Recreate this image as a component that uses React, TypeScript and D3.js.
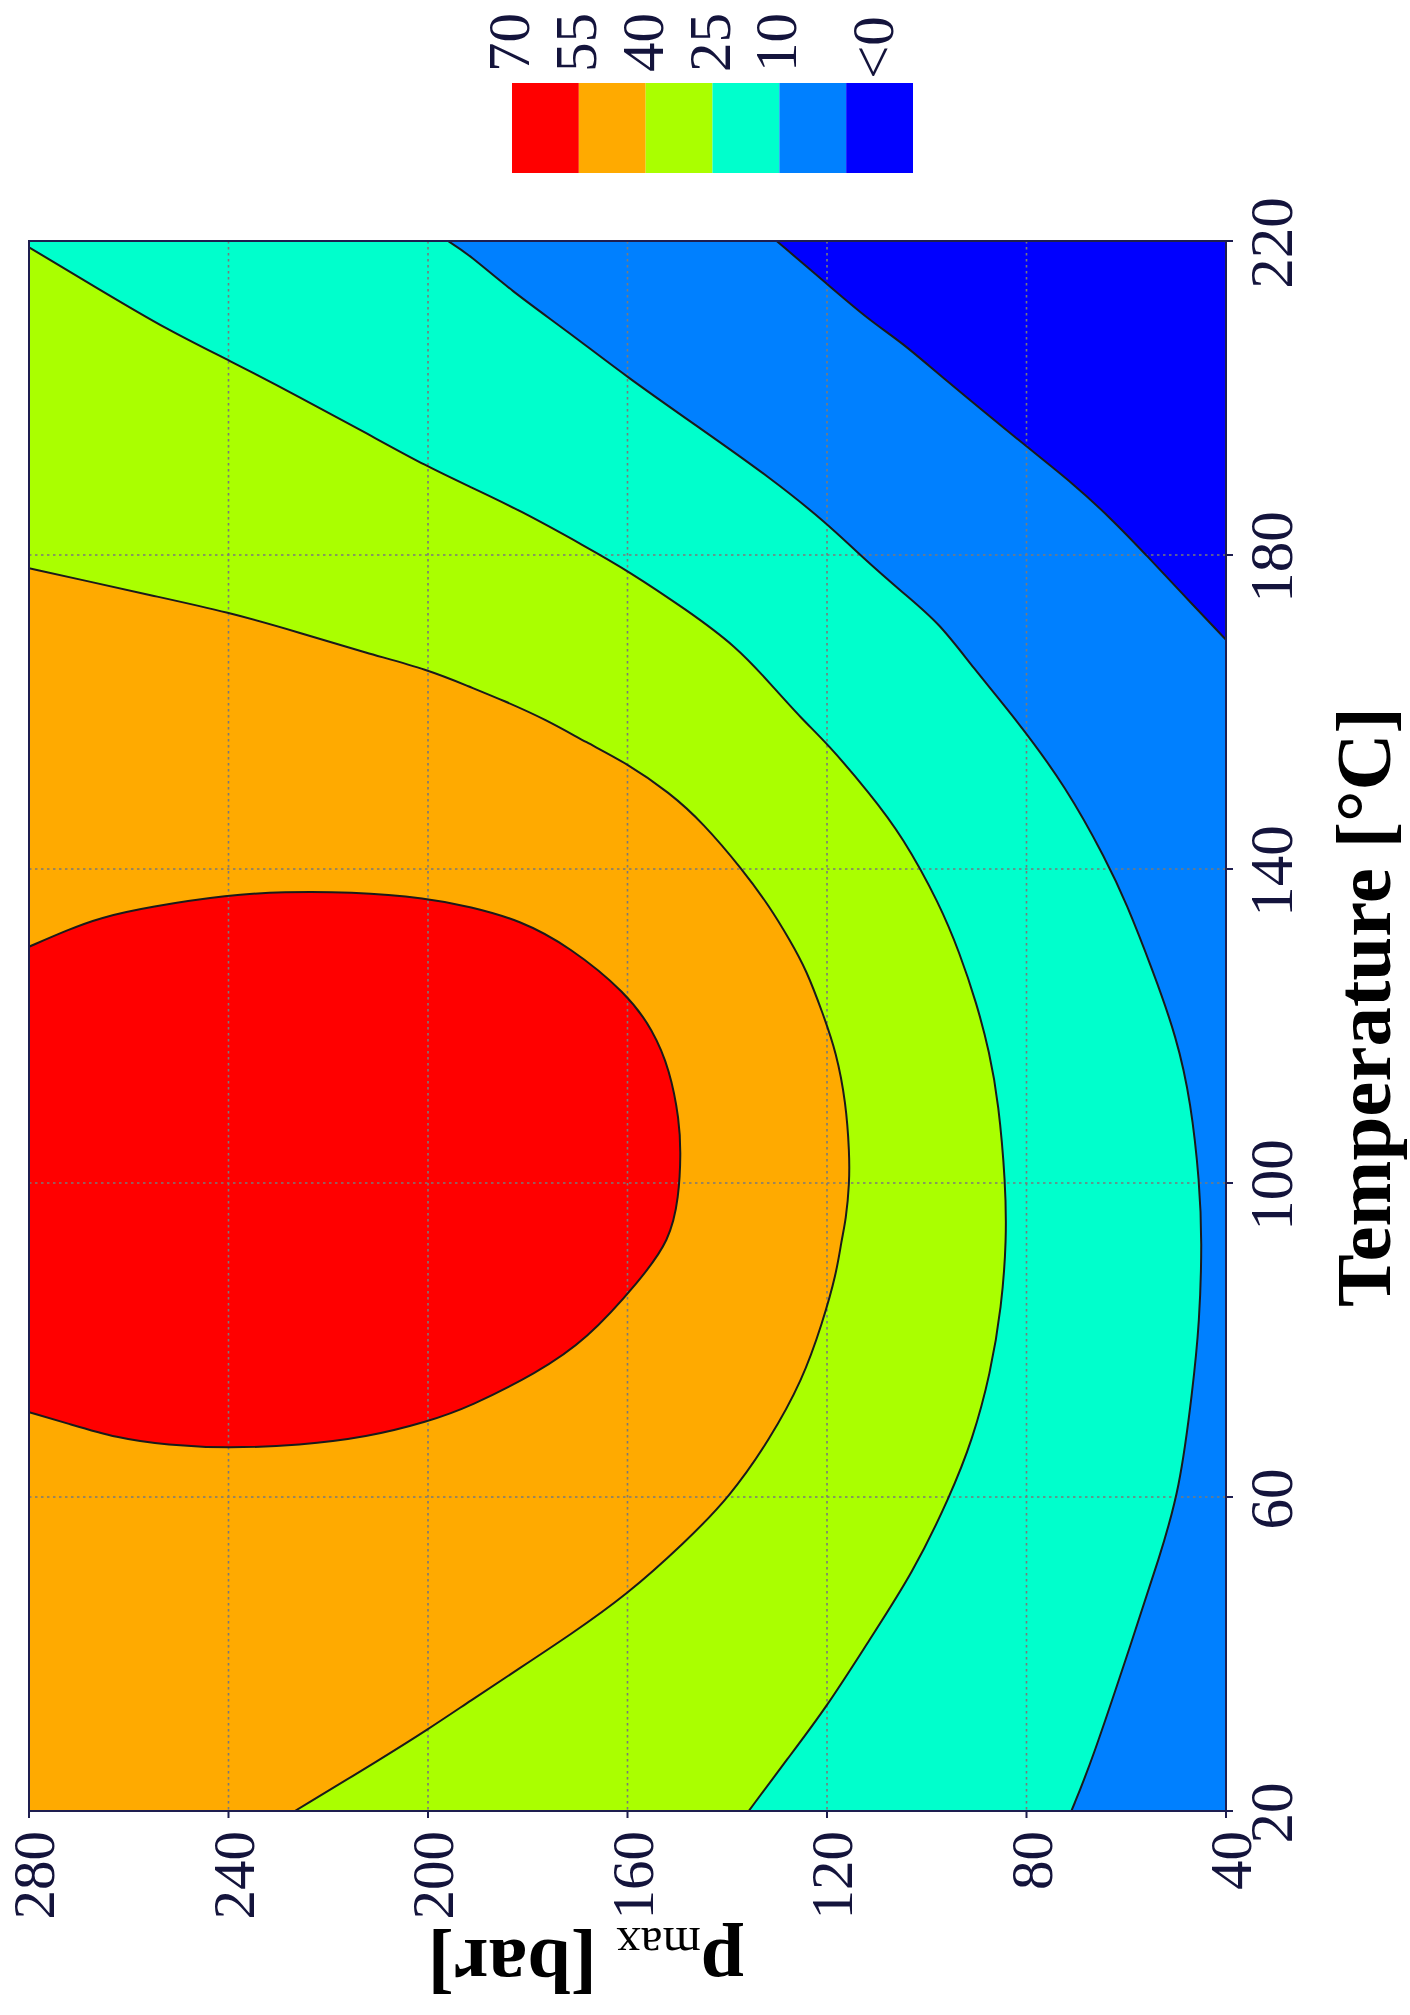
import React from 'react';
import * as d3 from 'd3';

type Pt = [number, number]; // [pressure bar, temperature °C]

const pressureTicks = [280, 240, 200, 160, 120, 80, 40];
const temperatureTicks = [20, 60, 100, 140, 180, 220];
const pressureGrid = [240, 200, 160, 120, 80];
const temperatureGrid = [60, 100, 140, 180];
const legendLabels = ['70', '55', '40', '25', '10'];
const legendLastLabel = '<0';
const bandColors = ['#ff0000', '#ffaa00', '#aaff00', '#00ffcc', '#0080ff', '#0000ff'];

// contour lines, as [p_max, Temperature]
const contour55: Pt[] = [
  [280, 130.1], [272.4, 132.2], [265.8, 133.8], [255.8, 135.2], [239.9, 136.7], [229.1, 137.1],
  [215.7, 137.1], [200, 136.3], [191.6, 135.2], [181.6, 133.5], [171.6, 130.1], [160.2, 124.2],
  [154.9, 119.5], [151.5, 114.4], [149.6, 108.0], [149.3, 103.8], [149.7, 98.2], [151.5, 92.7],
  [157.5, 87.6], [168.2, 80.0], [178.2, 75.8], [191.6, 71.5], [200, 69.6], [212.3, 67.6],
  [225.7, 66.6], [239.9, 66.2], [252.3, 66.6], [262.4, 67.5], [272.4, 69.4], [280, 70.8],
];
const contour40: Pt[] = [
  [280, 178.3], [269.2, 176.8], [255.8, 174.9], [239.9, 172.7], [225.7, 170.1], [212.3, 167.5],
  [200, 165.4], [191.6, 163.2], [185.0, 161.5], [176.2, 159.0], [168.2, 156.1], [160.2, 153.5],
  [151.5, 149.7], [144.9, 145.9], [136.9, 139.9], [131.5, 135.2], [127.5, 131.0], [124.1, 127.1],
  [120.9, 121.7], [118.1, 116.6], [116.2, 110.2], [115.5, 103.8], [115.5, 100], [116.2, 95.3],
  [117.1, 92.7], [118.1, 88.5], [120.9, 82.2], [124.9, 74.9], [131.5, 67.3], [139.5, 60],
  [148.5, 54.2], [160.2, 47.5], [171.6, 42.4], [181.6, 38.2], [191.6, 34.0], [200, 30.4],
  [209.0, 26.8], [226.7, 20],
];
const contour25: Pt[] = [
  [280, 219.2], [265.8, 213.8], [252.3, 208.7], [239.9, 204.8], [225.7, 200.1], [212.3, 195.5],
  [200, 191.2], [191.6, 188.7], [181.6, 185.7], [168.2, 181.0], [160.2, 178.1], [148.1, 173.0],
  [138.1, 168.3], [131.5, 163.7], [124.9, 159.0], [120.1, 156.1], [111.5, 149.7], [104.8, 144.1],
  [97.4, 135.5], [93.4, 129.3], [90.0, 122.9], [87.4, 116.6], [85.6, 110.2], [84.2, 100],
  [84.0, 92.7], [85.0, 84.2], [87.2, 75.8], [90.8, 67.3], [95.4, 60], [102.8, 50.3],
  [111.5, 41.8], [120.1, 33.2], [128.1, 26.5], [135.7, 20],
];
const contour10: Pt[] = [
  [196.0, 220], [191.6, 218.2], [183.6, 213.8], [171.6, 208.3], [160.2, 202.7], [144.9, 195.9],
  [131.5, 189.9], [120.1, 184.1], [112.9, 179.7], [104.8, 175.2], [97.4, 171.3], [90.8, 165.7],
  [82.0, 159.0], [72.0, 150.4], [64.0, 141.1], [60.0, 135.7], [54.7, 127.1], [49.9, 118.6],
  [47.0, 110.2], [45.3, 100], [44.8, 92.7], [45.3, 82.2], [46.7, 73.6], [49.3, 60.9],
  [53.3, 52.4], [58.8, 41.8], [66.8, 26.5], [71.0, 20],
];
const contour0: Pt[] = [
  [130.1, 220], [120.1, 214.6], [111.5, 209.9], [104.8, 207.0], [97.4, 202.9], [80.0, 193.8],
  [70.8, 189.2], [62.8, 184.5], [56.0, 180], [49.4, 175.5], [40, 169.2],
];

export default function App() {
  const W = 1410;
  const H = 2015;
  const plot = { left: 29, right: 1226, top: 241, bottom: 1811 };
  const x = d3.scaleLinear().domain([280, 40]).range([plot.left, plot.right]);
  const y = d3.scaleLinear().domain([20, 220]).range([plot.bottom, plot.top]);
  const [pHi, pLo] = x.domain();
  const [tLo, tHi] = y.domain();

  const line = d3
    .line<Pt>()
    .x((d) => x(d[0]))
    .y((d) => y(d[1]))
    .curve(d3.curveBasis);

  const region = (pts: Pt[], corners: Pt[]) =>
    (line(pts) || '') + corners.map(([p, t]) => `L${x(p)},${y(t)}`).join('') + 'Z';

  const regions = [
    { fill: bandColors[4], d: region(contour0, [[pLo, tLo], [pHi, tLo], [pHi, tHi]]) },
    { fill: bandColors[3], d: region(contour10, [[pHi, tLo], [pHi, tHi]]) },
    { fill: bandColors[2], d: region(contour25, [[pHi, tLo]]) },
    { fill: bandColors[1], d: region(contour40, [[pHi, tLo]]) },
    { fill: bandColors[0], d: region(contour55, []) },
  ];
  const contourLines = [contour0, contour10, contour25, contour40, contour55];

  const legend = { left: 512, right: 913, top: 83, bottom: 173 };
  const lx = d3
    .scaleBand<number>()
    .domain(d3.range(bandColors.length))
    .range([legend.left, legend.right]);

  const tickColor = '#14143c';
  const serif = 'Liberation Serif, Times New Roman, Times, serif';

  return (
    <svg
      width={W}
      height={H}
      viewBox={`0 0 ${W} ${H}`}
      style={{ position: 'absolute', left: 0, top: 0, display: 'block', background: '#fff' }}
    >
      <defs>
        <clipPath id="plotClip">
          <rect x={plot.left} y={plot.top} width={plot.right - plot.left} height={plot.bottom - plot.top} />
        </clipPath>
      </defs>

      <g clipPath="url(#plotClip)">
        <rect
          x={plot.left}
          y={plot.top}
          width={plot.right - plot.left}
          height={plot.bottom - plot.top}
          fill={bandColors[5]}
        />
        {regions.map((r, i) => (
          <path key={i} d={r.d} fill={r.fill} stroke="none" />
        ))}
        {pressureGrid.map((p) => (
          <line
            key={'gp' + p}
            x1={x(p)}
            x2={x(p)}
            y1={plot.top}
            y2={plot.bottom}
            stroke="#7a7a7a"
            strokeWidth={1.6}
            strokeDasharray="2.5 3.5"
          />
        ))}
        {temperatureGrid.map((t) => (
          <line
            key={'gt' + t}
            x1={plot.left}
            x2={plot.right}
            y1={y(t)}
            y2={y(t)}
            stroke="#7a7a7a"
            strokeWidth={1.6}
            strokeDasharray="2.5 3.5"
          />
        ))}
        {contourLines.map((c, i) => (
          <path key={'c' + i} d={line(c) || ''} fill="none" stroke="#1a1a1a" strokeWidth={2} />
        ))}
      </g>

      <rect
        x={plot.left}
        y={plot.top}
        width={plot.right - plot.left}
        height={plot.bottom - plot.top}
        fill="none"
        stroke="#1e1e50"
        strokeWidth={2}
      />

      {/* pressure ticks (bottom) */}
      {pressureTicks.map((p) => (
        <g key={'pt' + p}>
          <line x1={x(p)} x2={x(p)} y1={plot.bottom} y2={plot.bottom + 7} stroke="#1e1e50" strokeWidth={2} />
          <text
            transform={`translate(${x(p) + 25},${plot.bottom + 20}) rotate(-90)`}
            textAnchor="end"
            fontFamily={serif}
            fontSize={59}
            fill={tickColor}
          >
            {p}
          </text>
        </g>
      ))}

      {/* temperature ticks (right) */}
      {temperatureTicks.map((t) => (
        <g key={'tt' + t}>
          <line x1={plot.right} x2={plot.right + 7} y1={y(t)} y2={y(t)} stroke="#1e1e50" strokeWidth={2} />
          <text
            transform={`translate(${plot.right + 66},${y(t) + 2}) rotate(-90)`}
            textAnchor="middle"
            fontFamily={serif}
            fontSize={61}
            fill={tickColor}
          >
            {t}
          </text>
        </g>
      ))}

      {/* axis titles */}
      <text
        transform={`translate(1390,1007) rotate(-90)`}
        textAnchor="middle"
        fontFamily={serif}
        fontWeight="bold"
        fontSize={79}
        fill="#000"
      >
        Temperature [°C]
      </text>
      <text
        transform={`translate(586,1940) rotate(180)`}
        textAnchor="middle"
        fontFamily={serif}
        fontWeight="bold"
        fontSize={78}
        fill="#000"
      >
        <tspan>p</tspan>
        <tspan fontSize={49} fontWeight="normal" dy={12}>
          max
        </tspan>
        <tspan dy={-12}> [bar]</tspan>
      </text>

      {/* legend */}
      {bandColors.map((c, i) => (
        <rect key={'lg' + i} x={lx(i)} y={legend.top} width={lx.bandwidth()} height={legend.bottom - legend.top} fill={c} />
      ))}
      {legendLabels.map((lab, i) => (
        <text
          key={'ll' + i}
          transform={`translate(${(lx(i) as number) + 17},72) rotate(-90)`}
          textAnchor="start"
          fontFamily={serif}
          fontSize={59}
          fill={tickColor}
        >
          {lab}
        </text>
      ))}
      <text
        transform={`translate(${(lx(bandColors.length - 1) as number) + lx.bandwidth() / 2 + 13},79) rotate(-90)`}
        textAnchor="start"
        fontFamily={serif}
        fontSize={59}
        fill={tickColor}
      >
        {legendLastLabel}
      </text>
    </svg>
  );
}
